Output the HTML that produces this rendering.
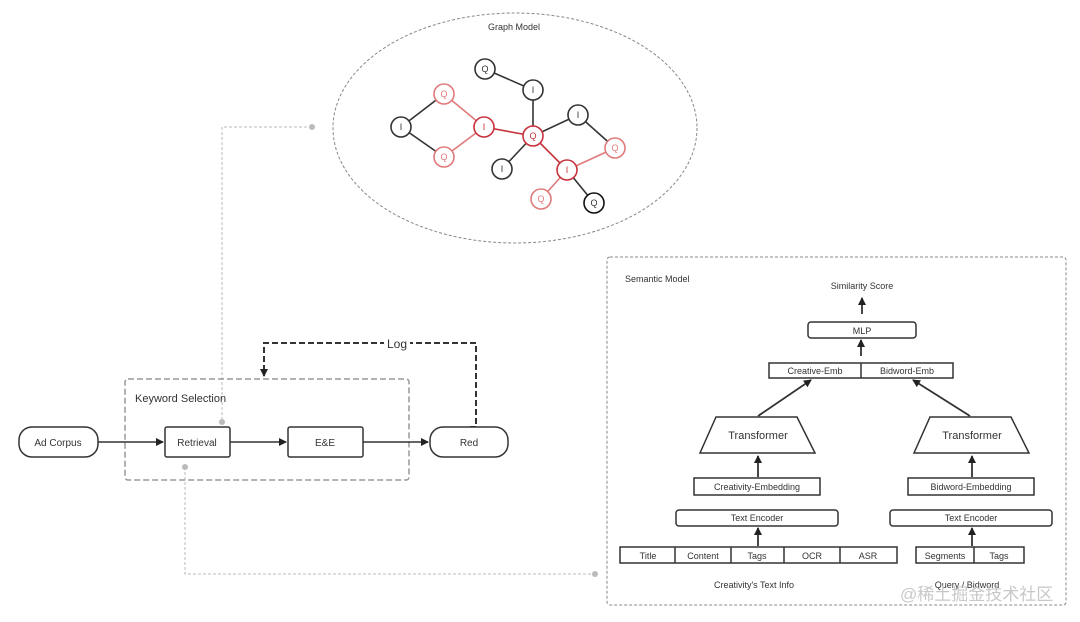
<!DOCTYPE html>
<html><head><meta charset="utf-8"><style>
html,body{margin:0;padding:0;background:#fff;}
svg{display:block;}
text{font-family:"Liberation Sans",sans-serif;fill:#333;}
</style></head><body>
<svg width="1080" height="622" viewBox="0 0 1080 622" xmlns="http://www.w3.org/2000/svg">
<defs>
<marker id="a" markerWidth="8" markerHeight="8" refX="7" refY="4" orient="auto" markerUnits="userSpaceOnUse"><path d="M0,0 L8,4 L0,8 z" fill="#222"/></marker>
</defs>
<!-- Graph model -->
<ellipse cx="515" cy="128" rx="182" ry="115" fill="none" stroke="#888" stroke-dasharray="3,2"/>
<text x="514" y="30" font-size="9" text-anchor="middle" fill="#555">Graph Model</text>
<g stroke-width="1.6" fill="none">
<g stroke="#333">
<line x1="485" y1="69" x2="533" y2="90"/><line x1="533" y1="90" x2="533" y2="136"/>
<line x1="401" y1="127" x2="444" y2="94"/><line x1="401" y1="127" x2="444" y2="157"/>
<line x1="533" y1="136" x2="578" y2="115"/><line x1="578" y1="115" x2="615" y2="148"/>
<line x1="533" y1="136" x2="502" y2="169"/><line x1="567" y1="170" x2="594" y2="203"/>
</g>
<g stroke="#e07a7a"><line x1="444" y1="94" x2="484" y2="127"/><line x1="444" y1="157" x2="484" y2="127"/>
<line x1="567" y1="170" x2="615" y2="148"/><line x1="567" y1="170" x2="541" y2="199"/></g>
<g stroke="#c8323c"><line x1="484" y1="127" x2="533" y2="136"/><line x1="533" y1="136" x2="567" y2="170"/></g>
</g>
<g font-size="9" text-anchor="middle" stroke-width="1.6">
<g fill="#fff" stroke="#333">
<circle cx="485" cy="69" r="10"/><circle cx="533" cy="90" r="10"/><circle cx="401" cy="127" r="10"/>
<circle cx="578" cy="115" r="10"/><circle cx="502" cy="169" r="10"/><circle cx="594" cy="203" r="10" stroke="#111"/>
</g>
<g fill="#fff" stroke="#e07a7a"><circle cx="444" cy="94" r="10"/><circle cx="444" cy="157" r="10"/><circle cx="615" cy="148" r="10"/><circle cx="541" cy="199" r="10"/></g>
<g fill="#fff" stroke="#c8323c"><circle cx="484" cy="127" r="10"/><circle cx="533" cy="136" r="10"/><circle cx="567" cy="170" r="10"/></g>
<text x="485" y="72">Q</text><text x="533" y="93">I</text><text x="401" y="130">I</text><text x="578" y="118">I</text><text x="502" y="172">I</text><text x="594" y="206">Q</text>
<text x="444" y="97" style="fill:#e07a7a">Q</text><text x="444" y="160" style="fill:#e07a7a">Q</text><text x="615" y="151" style="fill:#e07a7a">Q</text><text x="541" y="202" style="fill:#e07a7a">Q</text>
<text x="484" y="130" style="fill:#c8323c">I</text><text x="533" y="139" style="fill:#c8323c">Q</text><text x="567" y="173" style="fill:#c8323c">I</text>
</g>
<!-- dotted connectors -->
<g stroke="#bbb" fill="none" stroke-dasharray="3,2">
<polyline points="312,127 222,127 222,422"/>
<polyline points="185,467 185,574 595,574"/>
</g>
<g fill="#bbb"><circle cx="312" cy="127" r="3"/><circle cx="222" cy="422" r="3"/><circle cx="185" cy="467" r="3"/><circle cx="595" cy="574" r="3"/></g>
<!-- keyword selection -->
<rect x="125" y="379" width="284" height="101" rx="3" fill="none" stroke="#999" stroke-width="1.5" stroke-dasharray="6,3"/>
<text x="135" y="402" font-size="11" fill="#444">Keyword Selection</text>
<polyline points="470,427 476,427 476,343 264,343 264,376" fill="none" stroke="#333" stroke-width="2" stroke-dasharray="6,3" marker-end="url(#a)"/>
<rect x="384" y="336" width="26" height="14" fill="#fff"/>
<text x="397" y="348" font-size="12" text-anchor="middle" fill="#444">Log</text>
<g stroke="#333" stroke-width="1.5" fill="#fff">
<rect x="19" y="427" width="79" height="30" rx="13"/>
<rect x="165" y="427" width="65" height="30" rx="2"/>
<rect x="288" y="427" width="75" height="30" rx="2"/>
<rect x="430" y="427" width="78" height="30" rx="13"/>
</g>
<g stroke="#333" stroke-width="1.5">
<line x1="98" y1="442" x2="163" y2="442" marker-end="url(#a)"/>
<line x1="230" y1="442" x2="286" y2="442" marker-end="url(#a)"/>
<line x1="363" y1="442" x2="428" y2="442" marker-end="url(#a)"/>
</g>
<g font-size="10" text-anchor="middle" fill="#444">
<text x="58" y="446">Ad Corpus</text><text x="197" y="446">Retrieval</text><text x="325" y="446">E&amp;E</text><text x="469" y="446">Red</text>
</g>
<!-- semantic model -->
<rect x="607" y="257" width="459" height="348" rx="3" fill="none" stroke="#888" stroke-dasharray="3,2"/>
<text x="625" y="282" font-size="9" fill="#444">Semantic Model</text>
<text x="862" y="289" font-size="9" text-anchor="middle" fill="#444">Similarity Score</text>
<g stroke="#333" stroke-width="1.5" fill="#fff">
<rect x="808" y="322" width="108" height="16" rx="3"/>
<rect x="769" y="363" width="184" height="15"/><line x1="861" y1="363" x2="861" y2="378"/>
<polygon points="716,417 797,417 815,453 700,453"/>
<polygon points="930,417 1011,417 1029,453 914,453"/>
<rect x="694" y="478" width="126" height="17"/>
<rect x="908" y="478" width="126" height="17"/>
<rect x="676" y="510" width="162" height="16" rx="3"/>
<rect x="890" y="510" width="162" height="16" rx="3"/>
<rect x="620" y="547" width="277" height="16"/>
<line x1="675" y1="547" x2="675" y2="563"/><line x1="731" y1="547" x2="731" y2="563"/><line x1="784" y1="547" x2="784" y2="563"/><line x1="840" y1="547" x2="840" y2="563"/>
<rect x="916" y="547" width="108" height="16"/><line x1="974" y1="547" x2="974" y2="563"/>
</g>
<g stroke="#333" stroke-width="1.8">
<line x1="862" y1="314" x2="862" y2="298" marker-end="url(#a)"/>
<line x1="861" y1="356" x2="861" y2="340" marker-end="url(#a)"/>
<line x1="758" y1="416" x2="811" y2="380" marker-end="url(#a)"/>
<line x1="970" y1="416" x2="913" y2="380" marker-end="url(#a)"/>
<line x1="758" y1="477" x2="758" y2="456" marker-end="url(#a)"/>
<line x1="972" y1="477" x2="972" y2="456" marker-end="url(#a)"/>
<line x1="758" y1="546" x2="758" y2="528" marker-end="url(#a)"/>
<line x1="972" y1="546" x2="972" y2="528" marker-end="url(#a)"/>
</g>
<g font-size="9" text-anchor="middle" fill="#333">
<text x="862" y="334">MLP</text>
<text x="815" y="374">Creative-Emb</text><text x="907" y="374">Bidword-Emb</text>
<text x="758" y="439" font-size="11">Transformer</text><text x="972" y="439" font-size="11">Transformer</text>
<text x="757" y="490">Creativity-Embedding</text><text x="971" y="490">Bidword-Embedding</text>
<text x="757" y="521">Text Encoder</text><text x="971" y="521">Text Encoder</text>
<text x="648" y="559">Title</text><text x="703" y="559">Content</text><text x="757" y="559">Tags</text><text x="812" y="559">OCR</text><text x="868" y="559">ASR</text>
<text x="945" y="559">Segments</text><text x="999" y="559">Tags</text>
<text x="754" y="588">Creativity's Text Info</text><text x="967" y="588">Query / Bidword</text>
</g>
<text x="900" y="600" font-size="17" style="fill:#c8c8c8;font-family:'Liberation Sans','Noto Sans CJK SC',sans-serif">@稀土掘金技术社区</text>
</svg>
</body></html>
